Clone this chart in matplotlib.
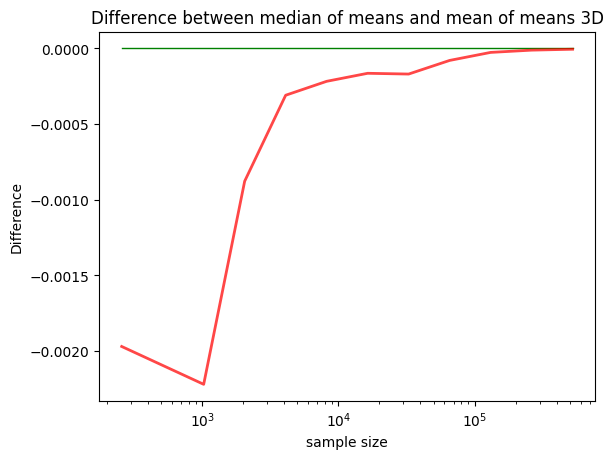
import matplotlib
matplotlib.use("Agg")
import matplotlib.pyplot as plt

sizes = [256, 1024, 2048, 4096, 8192, 16384, 32768, 65536, 131072, 262144, 524288]
diff = [-0.00197, -0.00222, -0.000878, -0.00031, -0.000218, -0.000165,
        -0.00017, -0.00008, -0.000027, -0.000012, -0.000006]
zero = [0.0] * len(sizes)

fig, ax = plt.subplots(figsize=(6.4, 4.8), dpi=100)
ax.plot(sizes, zero, color="green", linewidth=1)
ax.plot(sizes, diff, color="red", alpha=0.72, linewidth=2)
ax.set_xscale("log")
ax.set_title("Difference between median of means and mean of means 3D")
ax.set_xlabel("sample size")
ax.set_ylabel("Difference")
fig.savefig("out.png", bbox_inches="tight")
